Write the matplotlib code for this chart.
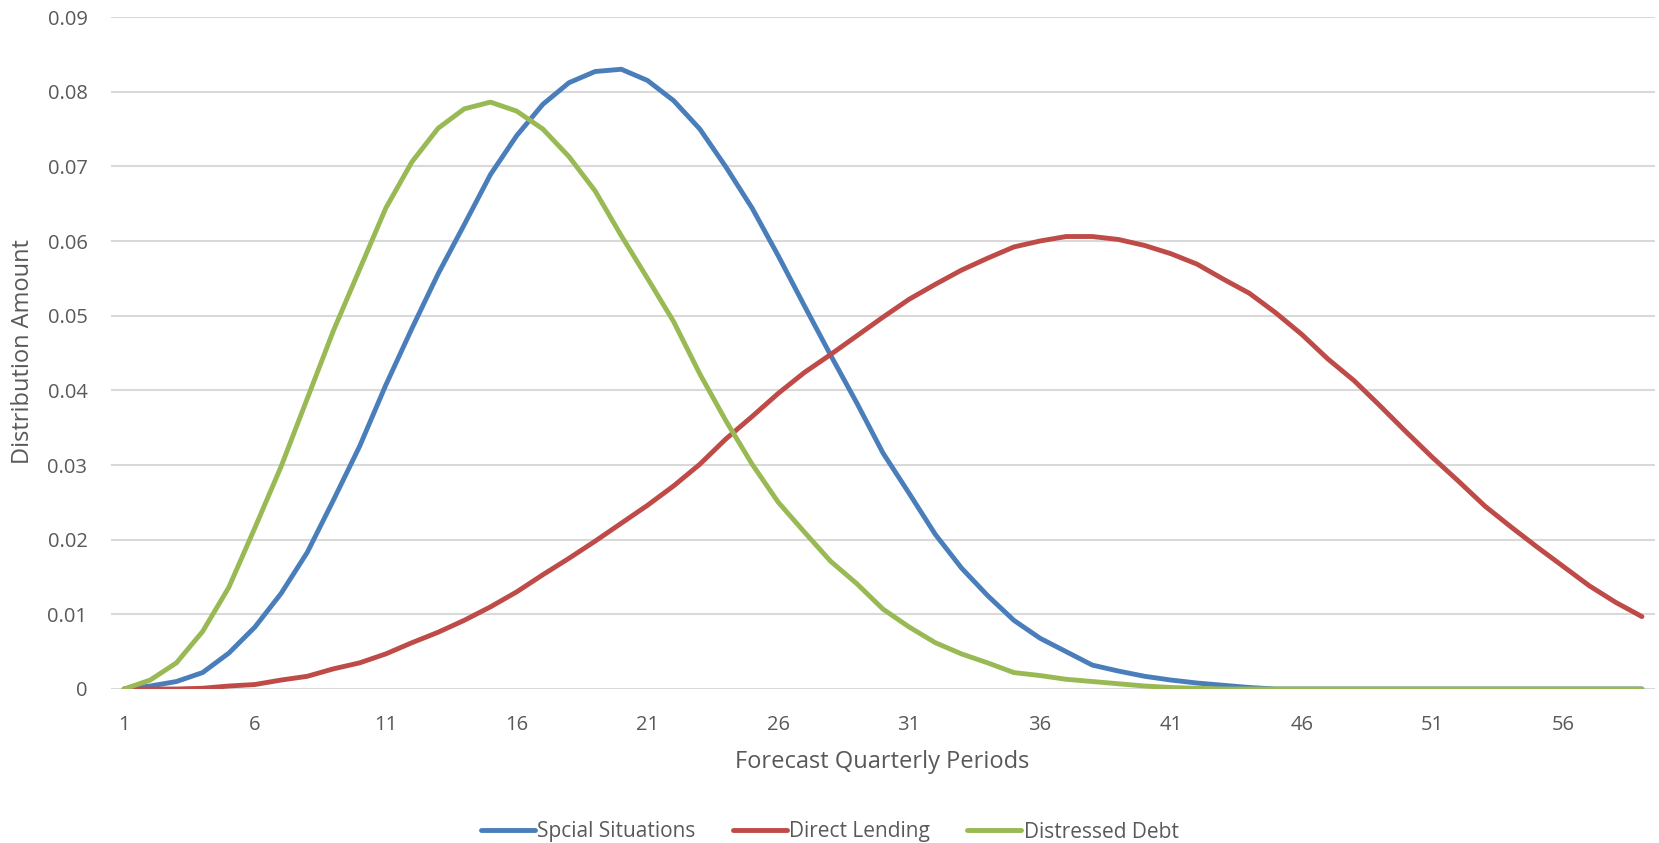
"""
Distribution curves by strategy over forecast quarterly periods.
"""

import numpy as np
import matplotlib
matplotlib.use('Agg')
import matplotlib.pyplot as plt

# --- data ---
periods = list(range(1, 60))

special_situations = [
    0.0, 0.0004, 0.0010, 0.0022, 0.0048, 0.0083, 0.0128, 0.0183, 0.0253, 0.0325,
    0.0407, 0.0483, 0.0556, 0.0622, 0.0689, 0.0741, 0.0783, 0.0812, 0.0827, 0.0830,
    0.0815, 0.0788, 0.0750, 0.0699, 0.0644, 0.0580, 0.0513, 0.0447, 0.0383, 0.0316,
    0.0262, 0.0207, 0.0162, 0.0125, 0.0092, 0.0068, 0.0050, 0.0032, 0.0024, 0.0017,
    0.0012, 0.0008, 0.0005, 0.0002, 0.0, 0.0, 0.0, 0.0, 0.0, 0.0,
    0.0, 0.0, 0.0, 0.0, 0.0, 0.0, 0.0, 0.0, 0.0,
]

direct_lending = [
    0.0, 0.0, 0.0, 0.0001, 0.0004, 0.0006, 0.0012, 0.0017, 0.0027, 0.0035,
    0.0047, 0.0062, 0.0076, 0.0092, 0.0110, 0.0130, 0.0153, 0.0175, 0.0198, 0.0222,
    0.0246, 0.0272, 0.0301, 0.0335, 0.0365, 0.0396, 0.0424, 0.0448, 0.0473, 0.0498,
    0.0522, 0.0542, 0.0561, 0.0577, 0.0592, 0.0600, 0.0606, 0.0606, 0.0602, 0.0594,
    0.0583, 0.0569, 0.0549, 0.0530, 0.0504, 0.0475, 0.0442, 0.0413, 0.0379, 0.0344,
    0.0310, 0.0278, 0.0245, 0.0217, 0.0190, 0.0164, 0.0138, 0.0116, 0.0097,
]

distressed_debt = [
    0.0, 0.0012, 0.0035, 0.0077, 0.0136, 0.0216, 0.0298, 0.0389, 0.0480, 0.0562,
    0.0644, 0.0706, 0.0751, 0.0777, 0.0786, 0.0774, 0.0750, 0.0713, 0.0667, 0.0607,
    0.0550, 0.0492, 0.0422, 0.0359, 0.0301, 0.0250, 0.0210, 0.0171, 0.0141, 0.0107,
    0.0083, 0.0062, 0.0047, 0.0035, 0.0022, 0.0018, 0.0013, 0.0010, 0.0007, 0.0004,
    0.0002, 0.0001, 0.0, 0.0, 0.0, 0.0, 0.0, 0.0, 0.0, 0.0,
    0.0, 0.0, 0.0, 0.0, 0.0, 0.0, 0.0, 0.0, 0.0,
]

series_names = ['Spcial Situations', 'Direct Lending', 'Distressed Debt']
x_ticks = list(range(1, 60, 5))
y_ticks = [0.0, 0.01, 0.02, 0.03, 0.04, 0.05, 0.06, 0.07, 0.08, 0.09]
y_tick_labels = ['0', '0.01', '0.02', '0.03', '0.04', '0.05', '0.06', '0.07', '0.08', '0.09']

colors = ['#4A7EBB', '#BE4B48', '#98B954']
text_color = '#595959'

plt.rcParams['font.family'] = ['Open Sans', 'DejaVu Sans']

W, H = 1659, 843
fig = plt.figure(figsize=(W / 100, H / 100), dpi=100)
# plot area: x 111..1655 px, y 17..689 px (from top)
ax = fig.add_axes([111 / W, 1 - 689 / H, (1655 - 111) / W, (689 - 17) / H])

for name, vals, color in zip(series_names,
                             [special_situations, direct_lending, distressed_debt],
                             colors):
    ax.plot(periods, vals, color=color, linewidth=3.5, label=name,
            solid_joinstyle='round', solid_capstyle='round', zorder=3)

ax.set_xlim(0.5, 59.5)
ax.set_ylim(0, 0.09)
ax.set_xticks(x_ticks)
ax.set_xticklabels([str(t) for t in x_ticks])
ax.set_yticks(y_ticks)
ax.set_yticklabels(y_tick_labels)
ax.tick_params(axis='both', length=0, labelsize=14.5, labelcolor=text_color)
ax.tick_params(axis='x', pad=18.6)
ax.tick_params(axis='y', pad=17)

ax.grid(True, axis='y', color='#D9D9D9', linewidth=1.5, zorder=0)
for s in ax.spines.values():
    s.set_visible(False)

fig.text(23 / W, 1 - 352 / H, 'Distribution Amount', rotation=90,
         ha='center', va='center', fontsize=17, color=text_color)
fig.text(882 / W, 1 - 762 / H, 'Forecast Quarterly Periods',
         ha='center', va='center', fontsize=17, color=text_color)

fig.legend(loc='center', bbox_to_anchor=(0.5, 1 - 832 / H), ncol=3,
           frameon=False, fontsize=15, handlelength=2.6, handletextpad=0.1,
           columnspacing=1.8, labelcolor=text_color)

fig.savefig('out.png', dpi=100)
plt.close(fig)
